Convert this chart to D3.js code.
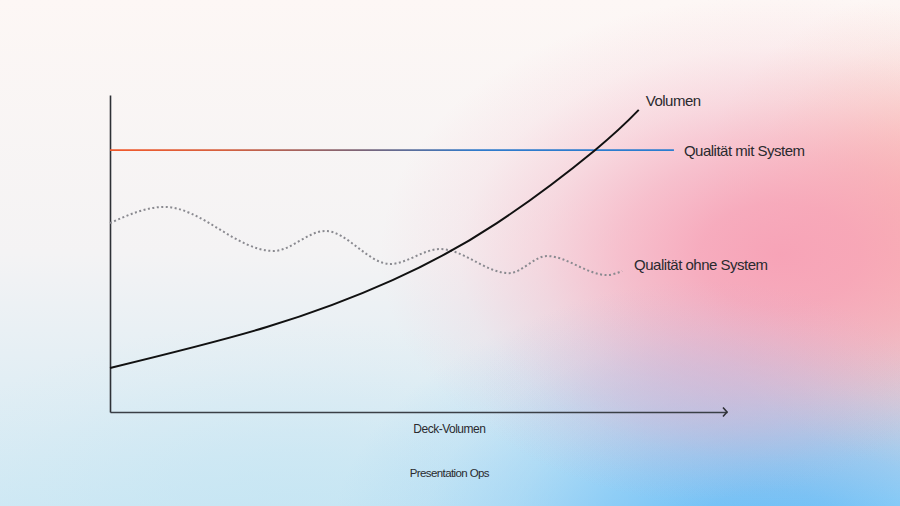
<!DOCTYPE html>
<html>
<head>
<meta charset="utf-8">
<script src="https://cdn.jsdelivr.net/npm/d3@7"></script>
<style>
  html, body { margin: 0; padding: 0; }
  body { width: 900px; height: 506px; overflow: hidden; }
  text { font-family: "Liberation Sans", Arial, sans-serif; fill: #2a2a2e; }
</style>
</head>
<body>
<div id="chart"></div>
<script>
// Volumen (exponential growth)
const volumeX = [0, 25.4, 45.8, 62.7, 78.6, 85.7];
const volumeY = [13.9, 26.8, 41.6, 59.6, 82.6, 95.3];

// Qualität ohne System (wavy, dotted)
const noSysX = [0, 8.8, 26.5, 34.9, 45.4, 53.5, 64.7, 70.8, 80.6, 83];
const noSysY = [59.6, 64.7, 50.8, 57.1, 46.7, 51.4, 43.8, 49.2, 43.2, 44.5];

// Qualität mit System (flat)
const sysX = [0, 91.4];
const sysY = [82.6, 82.6];

const labels = ["Volumen", "Qualität mit System", "Qualität ohne System"];
const xTitle = "Deck-Volumen";
const footer = "Presentation Ops";

const W = 900, H = 506;
const margin = { top: 95, right: 173, bottom: 94, left: 110 };

const svg = d3.select("#chart").append("svg")
    .attr("width", W)
    .attr("height", H);

const defs = svg.append("defs");

// background
const base = defs.append("linearGradient").attr("id", "bg-base")
    .attr("x1", 0).attr("y1", 0).attr("x2", 0).attr("y2", 1);
base.append("stop").attr("offset", "0%").attr("stop-color", "#fdf7f5");
base.append("stop").attr("offset", "50%").attr("stop-color", "#f4f3f4");
base.append("stop").attr("offset", "100%").attr("stop-color", "#d0e9f4");

function blob(id, cx, cy, rx, ry, color, op) {
    const g = defs.append("radialGradient").attr("id", id)
        .attr("gradientUnits", "userSpaceOnUse")
        .attr("cx", cx).attr("cy", cy).attr("r", rx)
        .attr("gradientTransform", "translate(" + cx + "," + cy + ") scale(1," + (ry / rx) + ") translate(" + (-cx) + "," + (-cy) + ")");
    [[0, 1], [0.2, 0.9], [0.4, 0.65], [0.6, 0.35], [0.8, 0.12], [1, 0]].forEach(s => {
        g.append("stop").attr("offset", s[0]).attr("stop-color", color).attr("stop-opacity", op * s[1]);
    });
    svg.append("rect").attr("width", W).attr("height", H).attr("fill", "url(#" + id + ")");
}

svg.append("rect").attr("width", W).attr("height", H).attr("fill", "url(#bg-base)");
blob("b-cyan", 300, 540, 420, 220, "#c2e4f3", 0.7);
blob("b-blue", 770, 545, 440, 270, "#6cbff7", 1);
blob("b-peach", 930, 230, 240, 240, "#fcbea8", 0.85);
blob("b-pink", 780, 255, 400, 260, "#f7a0b5", 0.95);
blob("b-lav", 700, 390, 220, 110, "#c9b4d9", 0.4);

const width = W - margin.left - margin.right;
const height = H - margin.top - margin.bottom;

const x = d3.scaleLinear().domain([0, 100]).range([margin.left, margin.left + width]);
const y = d3.scaleLinear().domain([0, 100]).range([margin.top + height, margin.top]);

// axes
svg.append("g")
    .attr("transform", "translate(0," + y(0) + ")")
    .call(d3.axisBottom(x).ticks(0).tickSizeOuter(0))
    .select(".domain")
    .attr("stroke", "#3a3f46")
    .attr("stroke-width", 1.6);

svg.append("g")
    .attr("transform", "translate(" + x(0) + ",0)")
    .call(d3.axisLeft(y).ticks(0).tickSizeOuter(0))
    .select(".domain")
    .attr("stroke", "#2e3136")
    .attr("stroke-width", 1.6);

// arrow head
svg.append("path")
    .attr("d", "M" + (x(100) - 4) + "," + (y(0) - 4.5) + " L" + x(100) + "," + y(0) + " L" + (x(100) - 4) + "," + (y(0) + 4.5))
    .attr("fill", "none")
    .attr("stroke", "#2e3136")
    .attr("stroke-width", 1.6);

const line = d3.line()
    .x(d => x(d[0]))
    .y(d => y(d[1]))
    .curve(d3.curveMonotoneX);

// flat gradient line
const lg = defs.append("linearGradient").attr("id", "sys-grad")
    .attr("gradientUnits", "userSpaceOnUse")
    .attr("x1", x(sysX[0])).attr("y1", 0)
    .attr("x2", x(sysX[1])).attr("y2", 0);
lg.append("stop").attr("offset", "0%").attr("stop-color", "#f2582a");
lg.append("stop").attr("offset", "20%").attr("stop-color", "#d6603e");
lg.append("stop").attr("offset", "45%").attr("stop-color", "#7a6478");
lg.append("stop").attr("offset", "65%").attr("stop-color", "#2f7acb");
lg.append("stop").attr("offset", "100%").attr("stop-color", "#2a7dd0");

svg.append("path")
    .datum(d3.zip(sysX, sysY))
    .attr("d", line)
    .attr("fill", "none")
    .attr("stroke", "url(#sys-grad)")
    .attr("stroke-width", 1.8);

svg.append("path")
    .datum(d3.zip(noSysX, noSysY))
    .attr("d", line)
    .attr("fill", "none")
    .attr("stroke", "#8a8a90")
    .attr("stroke-width", 2)
    .attr("stroke-dasharray", "2 2.5");

svg.append("path")
    .datum(d3.zip(volumeX, volumeY))
    .attr("d", line.curve(d3.curveNatural))
    .attr("fill", "none")
    .attr("stroke", "#111")
    .attr("stroke-width", 2);

// series labels
const lastV = volumeX.length - 1, lastN = noSysX.length - 1;
const labelPos = [
    [x(volumeX[lastV]) + 7, y(volumeY[lastV]) - 9],
    [x(sysX[1]) + 10, y(sysY[1])],
    [x(noSysX[lastN]) + 12, y(noSysY[lastN]) - 6]
];

svg.selectAll(".series-label")
    .data(labels)
    .enter()
    .append("text")
    .attr("class", "series-label")
    .attr("x", (d, i) => labelPos[i][0])
    .attr("y", (d, i) => labelPos[i][1])
    .attr("dy", "0.36em")
    .attr("font-size", 15)
    .attr("letter-spacing", -0.5)
    .text(d => d);

svg.append("text")
    .attr("x", x(55))
    .attr("y", y(0) + 21)
    .attr("text-anchor", "middle")
    .attr("font-size", 12)
    .attr("letter-spacing", -0.5)
    .text(xTitle);

svg.append("text")
    .attr("x", x(55))
    .attr("y", y(0) + 65)
    .attr("text-anchor", "middle")
    .attr("font-size", 11.5)
    .attr("letter-spacing", -0.6)
    .text(footer);
</script>
</body>
</html>
